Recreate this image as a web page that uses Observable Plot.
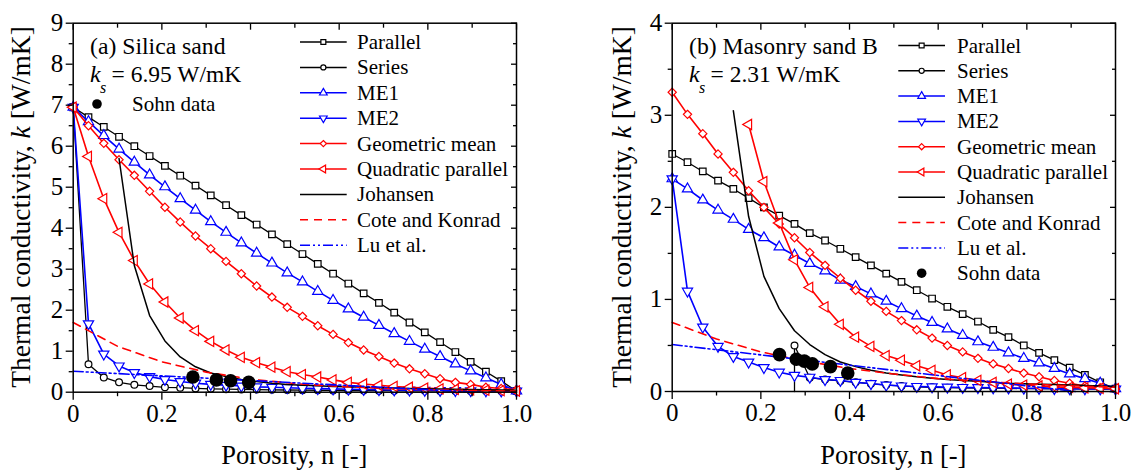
<!DOCTYPE html>
<html><head><meta charset="utf-8">
<script src="https://cdn.jsdelivr.net/npm/d3@7"></script>
<script src="https://cdn.jsdelivr.net/npm/@observablehq/plot@0.6"></script>
<style>
html,body{margin:0;padding:0;background:#fff;}
#wrap{position:relative;width:1135px;height:473px;overflow:hidden;}
#wrap > svg{position:absolute;top:0;}
</style></head><body><div id="wrap"></div>
<script>
// ---------- data ----------
const nPts = [0, 0.0345, 0.069, 0.1034, 0.1379, 0.1724, 0.2069, 0.2414, 0.2759, 0.3103, 0.3448, 0.3793, 0.4138, 0.4483, 0.4828, 0.5172, 0.5517, 0.5862, 0.6207, 0.6552, 0.6897, 0.7241, 0.7586, 0.7931, 0.8276, 0.8621, 0.8966, 0.931, 0.9655, 1];

// (a) Silica sand
const parallelA = [6.95, 6.71, 6.47, 6.23, 6.00, 5.76, 5.52, 5.28, 5.04, 4.80, 4.56, 4.32, 4.09, 3.85, 3.61, 3.37, 3.13, 2.89, 2.65, 2.41, 2.18, 1.94, 1.70, 1.46, 1.22, 0.98, 0.74, 0.50, 0.27, 0.03];
const seriesA = [6.95, 0.68, 0.36, 0.24, 0.18, 0.15, 0.12, 0.11, 0.093, 0.083, 0.075, 0.068, 0.063, 0.058, 0.054, 0.050, 0.047, 0.044, 0.042, 0.040, 0.038, 0.036, 0.034, 0.033, 0.031, 0.030, 0.029, 0.028, 0.027, 0.026];
const me1A = [6.95, 6.60, 6.26, 5.93, 5.61, 5.30, 5.01, 4.72, 4.44, 4.16, 3.90, 3.64, 3.39, 3.15, 2.91, 2.69, 2.46, 2.24, 2.03, 1.83, 1.63, 1.43, 1.24, 1.05, 0.87, 0.69, 0.52, 0.35, 0.19, 0.03];
const me2A = [6.95, 1.67, 0.93, 0.64, 0.48, 0.38, 0.31, 0.26, 0.22, 0.19, 0.17, 0.15, 0.13, 0.12, 0.11, 0.097, 0.088, 0.080, 0.073, 0.066, 0.061, 0.055, 0.051, 0.046, 0.042, 0.038, 0.035, 0.032, 0.029, 0.026];
const geoA = [6.95, 6.50, 6.07, 5.67, 5.29, 4.90, 4.51, 4.15, 3.81, 3.50, 3.19, 2.89, 2.59, 2.32, 2.07, 1.85, 1.62, 1.41, 1.21, 1.03, 0.87, 0.71, 0.57, 0.45, 0.33, 0.24, 0.19, 0.12, 0.09, 0.06];
const quadA = [6.95, 5.75, 4.72, 3.90, 3.21, 2.64, 2.20, 1.81, 1.50, 1.24, 1.03, 0.85, 0.72, 0.61, 0.50, 0.43, 0.37, 0.30, 0.24, 0.20, 0.17, 0.14, 0.12, 0.10, 0.08, 0.07, 0.06, 0.05, 0.04, 0.03];
const johA = [null, null, null, 5.70, 3.09, 1.87, 1.25, 0.86, 0.62, 0.47, 0.38, 0.31, 0.26, 0.22, 0.19, 0.17, 0.155, 0.14, 0.13, 0.12, 0.11, 0.10, 0.09, 0.085, 0.08, 0.07, 0.065, 0.06, 0.055, 0.05];
const coteN = [0, 0.1, 0.2, 0.3, 0.4, 0.5, 0.6, 0.7, 0.8, 0.9, 1.0];
const coteA = [1.70, 1.12, 0.74, 0.49, 0.32, 0.21, 0.14, 0.094, 0.062, 0.041, 0.027];
const luN = [0, 0.91];
const luA = [0.51, 0.0];
const sohnNA = [0.27, 0.323, 0.355, 0.396];
const sohnKA = [0.37, 0.30, 0.28, 0.24];

// (b) Masonry sand B
const parallelB = [2.58, 2.49, 2.39, 2.29, 2.20, 2.10, 2.00, 1.91, 1.82, 1.72, 1.64, 1.55, 1.46, 1.37, 1.28, 1.19, 1.10, 1.01, 0.92, 0.84, 0.76, 0.67, 0.59, 0.50, 0.42, 0.34, 0.26, 0.18, 0.10, 0.03];
const seriesB = [null, null, null, null, null, null, null, null, 0.50, 0.15, 0.13, 0.115, 0.10, 0.085, 0.07, 0.06, 0.05, 0.045, 0.042, 0.04, 0.038, 0.036, 0.034, 0.032, 0.031, 0.03, 0.029, 0.028, 0.027, 0.026];
const seriesBFoot = [0.2759, 0];
const me1B = [2.31, 2.20, 2.08, 1.97, 1.87, 1.76, 1.67, 1.57, 1.48, 1.39, 1.31, 1.21, 1.14, 1.06, 0.98, 0.90, 0.82, 0.75, 0.68, 0.61, 0.54, 0.48, 0.42, 0.36, 0.31, 0.25, 0.19, 0.14, 0.09, 0.03];
const me2B = [2.31, 1.09, 0.70, 0.49, 0.38, 0.32, 0.26, 0.21, 0.175, 0.155, 0.13, 0.12, 0.10, 0.085, 0.07, 0.06, 0.055, 0.05, 0.047, 0.044, 0.042, 0.04, 0.038, 0.036, 0.034, 0.032, 0.03, 0.029, 0.028, 0.026];
const geoB = [3.25, 3.01, 2.80, 2.58, 2.38, 2.18, 2.00, 1.82, 1.67, 1.51, 1.37, 1.23, 1.10, 0.98, 0.87, 0.77, 0.67, 0.58, 0.50, 0.43, 0.36, 0.30, 0.25, 0.20, 0.16, 0.12, 0.09, 0.06, 0.04, 0.03];
const quadB = [null, null, null, null, null, 2.90, 2.28, 1.83, 1.43, 1.13, 0.92, 0.73, 0.59, 0.49, 0.39, 0.34, 0.28, 0.23, 0.18, 0.15, 0.12, 0.10, 0.08, 0.07, 0.06, 0.05, 0.045, 0.04, 0.035, 0.03];
const johB = [null, null, null, null, 3.05, 1.90, 1.25, 0.90, 0.66, 0.51, 0.40, 0.32, 0.27, 0.23, 0.20, 0.18, 0.16, 0.145, 0.13, 0.12, 0.11, 0.10, 0.09, 0.085, 0.08, 0.075, 0.07, 0.065, 0.06, 0.055];
const coteB = [0.75, 0.57, 0.43, 0.33, 0.25, 0.19, 0.14, 0.11, 0.082, 0.062, 0.047];
const luB = [0.51, 0.0];
const sohnNB = [0.242, 0.28, 0.298, 0.316, 0.357, 0.396];
const sohnKB = [0.40, 0.35, 0.33, 0.30, 0.27, 0.20];

const xMajor = [0, 0.2, 0.4, 0.6, 0.8, 1.0];
const xMinor = [0.1, 0.3, 0.5, 0.7, 0.9];
const yMajorA = [0, 1, 2, 3, 4, 5, 6, 7, 8, 9];
const yMinorA = [0.5, 1.5, 2.5, 3.5, 4.5, 5.5, 6.5, 7.5, 8.5];
const yMajorB = [0, 1, 2, 3, 4];
const yMinorB = [0.5, 1.5, 2.5, 3.5];

const legendLabels = ["Parallel", "Series", "ME1", "ME2", "Geometric mean", "Quadratic parallel", "Johansen", "Cote and Konrad", "Lu et al."];

// ---------- styling ----------
const FONT = 'Liberation Serif, Times New Roman, Times, serif';
const BLUE = "#0000ff", RED = "#ff0000", BLACK = "#000000";
const sqrt3 = Math.sqrt(3);
const triDown = {draw(ctx, size) { const y = -Math.sqrt(size / (sqrt3 * 3)); ctx.moveTo(0, -y * 2); ctx.lineTo(-sqrt3 * y, y); ctx.lineTo(sqrt3 * y, y); ctx.closePath(); }};
const triLeft = {draw(ctx, size) { const y = -Math.sqrt(size / (sqrt3 * 3)); ctx.moveTo(y * 2, 0); ctx.lineTo(-y, -sqrt3 * y); ctx.lineTo(-y, sqrt3 * y); ctx.closePath(); }};
const styles = [
  {color: BLACK, symbol: d3.symbolSquare, r: 3.7, w: 1.3},
  {color: BLACK, symbol: d3.symbolCircle, r: 3.4, w: 1.3},
  {color: BLUE, symbol: d3.symbolTriangle, r: 3.8, w: 1.6},
  {color: BLUE, symbol: triDown, r: 3.8, w: 1.6},
  {color: RED, symbol: d3.symbolDiamond2, r: 3.7, w: 1.6},
  {color: RED, symbol: triLeft, r: 3.8, w: 1.6},
  {color: BLACK, w: 1.5},
  {color: RED, dash: "8,6", w: 1.6},
  {color: BLUE, dash: "10,3,2,3,2,3", w: 1.6}
];

function rows(vals) { return nPts.map((n, i) => ({n, k: vals[i]})).filter(d => d.k != null); }
function pairs(ns, ks) { return ns.map((n, i) => ({n, k: ks[i]})); }

function modelMarks(data, st, lineData) {
  const m = [Plot.line(lineData || data, {x: "n", y: "k", stroke: st.color, strokeWidth: st.w, strokeDasharray: st.dash})];
  if (st.symbol) m.push(Plot.dot(data, {x: "n", y: "k", stroke: st.color, fill: "white", symbol: st.symbol, r: st.r, strokeWidth: 1.2}));
  return m;
}

function axes(yMajor, yMinor) {
  const none = () => "";
  return [
    Plot.axisX({anchor: "bottom", ticks: xMajor, tickSize: 8, tickPadding: 4, tickFormat: d => d === 0 ? "0" : d.toFixed(1), label: null, strokeWidth: 1.3}),
    Plot.axisX({anchor: "bottom", ticks: xMinor, tickSize: 4.5, tickFormat: none, label: null, strokeWidth: 1.3}),
    Plot.axisX({anchor: "top", ticks: xMajor, tickSize: 6, dy: 6, tickFormat: none, label: null, strokeWidth: 1.3}),
    Plot.axisX({anchor: "top", ticks: xMinor, tickSize: 4, dy: 4, tickFormat: none, label: null, strokeWidth: 1.3}),
    Plot.axisY({anchor: "left", ticks: yMajor, tickSize: 7, tickPadding: 3, tickFormat: d => String(d), label: null, strokeWidth: 1.3}),
    Plot.axisY({anchor: "left", ticks: yMinor, tickSize: 4, tickFormat: none, label: null, strokeWidth: 1.3}),
    Plot.axisY({anchor: "right", ticks: yMajor, tickSize: 6, dx: -6, tickFormat: none, label: null, strokeWidth: 1.3}),
    Plot.axisY({anchor: "right", ticks: yMinor, tickSize: 4, dx: -4, tickFormat: none, label: null, strokeWidth: 1.3}),
    Plot.frame({stroke: BLACK, strokeWidth: 1.5})
  ];
}

const wrap = document.getElementById("wrap");

function panel(cfg) {
  const sets = [cfg.parallel, cfg.series, cfg.me1, cfg.me2, cfg.geo, cfg.quad, cfg.joh];
  const marks = [];
  sets.forEach((vals, i) => {
    const d = rows(vals);
    const lineData = (i === 1 && cfg.seriesFoot) ? [{n: cfg.seriesFoot[0], k: cfg.seriesFoot[1]}, ...d] : null;
    marks.push(...modelMarks(d, styles[i], lineData));
  });
  marks.push(...modelMarks(pairs(coteN, cfg.cote), styles[7]));
  marks.push(...modelMarks(pairs(luN, cfg.lu), styles[8]));
  marks.push(Plot.dot(pairs(cfg.sohnN, cfg.sohnK), {x: "n", y: "k", fill: BLACK, r: 6.8}));
  marks.push(...axes(cfg.yMajor, cfg.yMinor));
  const chart = Plot.plot({
    width: cfg.width, height: 473,
    marginLeft: cfg.ml, marginRight: cfg.mr, marginTop: 22.7, marginBottom: cfg.mb,
    x: {domain: [0, 1]}, y: {domain: [0, cfg.ymax]},
    style: {fontFamily: FONT, fontSize: "25px", color: "black", background: "transparent", overflow: "visible"},
    marks
  });
  chart.style.left = cfg.left + "px";
  wrap.appendChild(chart);
}

panel({left: 0, width: 567, ml: 72.7, mr: 51, mb: 81.3, ymax: 9, yMajor: yMajorA, yMinor: yMinorA,
  parallel: parallelA, series: seriesA, me1: me1A, me2: me2A, geo: geoA, quad: quadA, joh: johA,
  cote: coteA, lu: luA, sohnN: sohnNA, sohnK: sohnKA});
panel({left: 567, width: 568, ml: 104.7, mr: 20, mb: 82, ymax: 4, yMajor: yMajorB, yMinor: yMinorB,
  parallel: parallelB, series: seriesB, seriesFoot: seriesBFoot, me1: me1B, me2: me2B, geo: geoB, quad: quadB, joh: johB,
  cote: coteB, lu: luB, sohnN: sohnNB, sohnK: sohnKB});

// ---------- overlay: labels, annotations, legends ----------
const ov = d3.select(wrap).append("svg").attr("width", 1135).attr("height", 473)
  .style("left", "0px").style("pointer-events", "none")
  .style("font-family", FONT).attr("fill", "black");

function yLabel(cx, cy) {
  const t = ov.append("text").attr("transform", `translate(${cx},${cy}) rotate(-90)`)
    .attr("text-anchor", "middle").attr("dy", "0.35em").attr("font-size", 27.5);
  t.append("tspan").text("Thermal conductivity, ");
  t.append("tspan").attr("font-style", "italic").text("k");
  t.append("tspan").text(" [W/mK]");
}
function xLabel(cx, y) {
  ov.append("text").attr("x", cx).attr("y", y).attr("text-anchor", "middle").attr("font-size", 26.5).text("Porosity, n [-]");
}
yLabel(20, 207); yLabel(621, 207);
xLabel(294.3, 464); xLabel(893.3, 464);

function note(x, title, ksText) {
  ov.append("text").attr("x", x).attr("y", 54).attr("font-size", 23.7).text(title);
  ov.append("text").attr("x", x).attr("y", 82).attr("font-size", 24).attr("font-style", "italic").text("k");
  ov.append("text").attr("x", x + 10).attr("y", 93).attr("font-size", 16).attr("font-style", "italic").text("s");
  ov.append("text").attr("x", x + 21.5).attr("y", 82).attr("font-size", 23.5).text(ksText);
}
note(90, "(a) Silica sand", "= 6.95 W/mK");
note(689, "(b) Masonry sand B", "= 2.31 W/mK");

function legend(x0, x1, tx, y0, step, withSohn) {
  legendLabels.forEach((lab, i) => {
    const st = styles[i];
    const y = y0 + i * step;
    ov.append("line").attr("x1", x0).attr("x2", x1).attr("y1", y).attr("y2", y)
      .attr("stroke", st.color).attr("stroke-width", 1.5).attr("stroke-dasharray", st.dash || null);
    if (st.symbol) {
      const rr = st.r * 0.75;
      ov.append("path").attr("d", d3.symbol(st.symbol, Math.PI * rr * rr)())
        .attr("transform", `translate(${(x0 + x1) / 2},${y})`)
        .attr("fill", "white").attr("stroke", st.color).attr("stroke-width", 1.2);
    }
    ov.append("text").attr("x", tx).attr("y", y + 7).attr("font-size", 21).text(lab);
  });
  if (withSohn) {
    const y = y0 + legendLabels.length * step;
    ov.append("circle").attr("cx", (x0 + x1) / 2).attr("cy", y).attr("r", 4.8).attr("fill", "black");
    ov.append("text").attr("x", tx).attr("y", y + 7).attr("font-size", 21).text("Sohn data");
  }
}
legend(300, 346.7, 357, 42, 25.4, false);
legend(898.3, 945, 957, 45.5, 25.3, true);
// Sohn data key in panel (a)
ov.append("circle").attr("cx", 97).attr("cy", 104).attr("r", 4.8).attr("fill", "black");
ov.append("text").attr("x", 132).attr("y", 111).attr("font-size", 21).text("Sohn data");
</script></body></html>
